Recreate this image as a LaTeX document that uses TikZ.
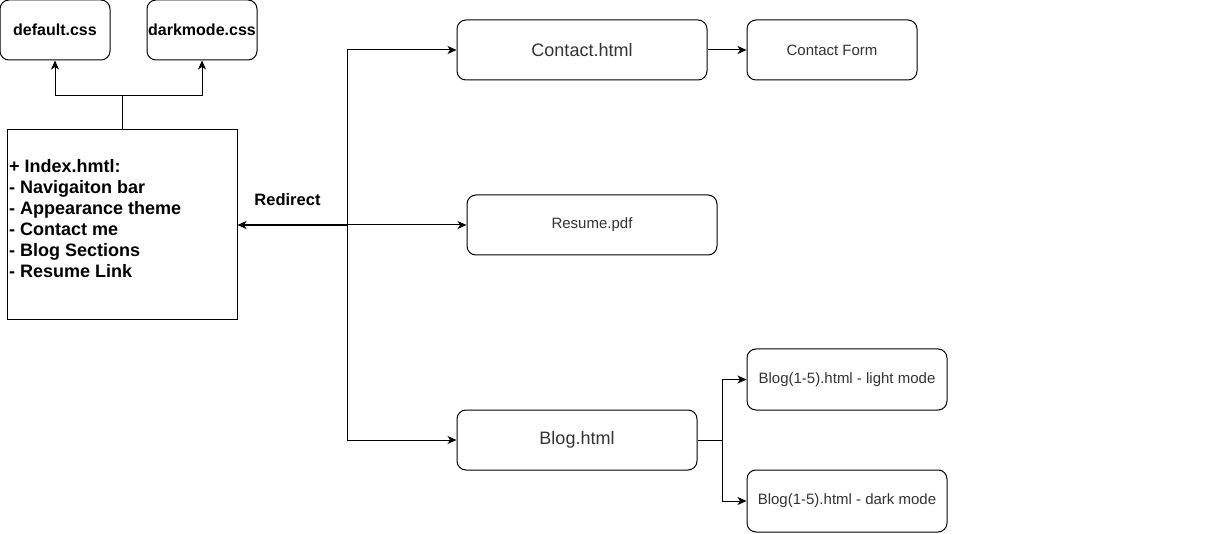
\documentclass[tikz,border=0pt]{standalone}
\usepackage{fontspec}
\setmainfont{Liberation Sans}
\usetikzlibrary{arrows.meta}
\definecolor{txtgray}{HTML}{333333}
\begin{document}
\begin{tikzpicture}[x=1pt,y=-1pt,
  rbox/.style={draw=black, line width=1pt, rounded corners=9pt, inner sep=0pt},
  pbox/.style={draw=black, line width=1pt, inner sep=0pt},
  tip/.style={-{Stealth[length=9pt,width=8pt,inset=2.5pt]}},
  arr/.style={line width=1pt, tip},
  ln/.style={line width=1pt},
  cssfont/.style={font=\fontsize{16}{19}\selectfont\bfseries, text=black},
  bigfont/.style={font=\fontsize{18}{21}\selectfont, text=txtgray},
  smallfont/.style={font=\fontsize{15}{18}\selectfont, text=txtgray}]
\useasboundingbox (0,0) rectangle (1226,534);

\node[rbox, cssfont, minimum width=110pt, minimum height=60pt] (def) at (55,30) {default.css};
\node[rbox, cssfont, minimum width=110pt, minimum height=60pt] (dark) at (202,30) {darkmode.css};

\node[pbox, minimum width=230pt, minimum height=190pt] (index) at (122,225) {};
\node[anchor=west, inner sep=0pt, align=left, font=\fontsize{18}{21}\selectfont\bfseries] (indextext) at (9,218.5)
  {+ Index.hmtl:\\- Navigaiton bar\\- Appearance theme\\- Contact me\\- Blog Sections\\- Resume Link};

\node[rbox, bigfont, minimum width=250pt, minimum height=60pt] (contact) at (582,50) {Contact.html};
\node[rbox, smallfont, minimum width=170pt, minimum height=60pt] (form) at (832,50) {Contact Form};
\node[rbox, smallfont, minimum width=250pt, minimum height=60pt] (resume) at (592,225) {Resume.pdf};
\node[rbox, bigfont, minimum width=240pt, minimum height=60pt] (blog) at (577,440) {Blog.html};
\node[rbox, smallfont, minimum width=200pt, minimum height=61pt] (light) at (847,379.5) {Blog(1-5).html - light mode};
\node[rbox, smallfont, minimum width=200pt, minimum height=62pt] (darkb) at (847,501) {Blog(1-5).html - dark mode};

% css links
\coordinate (j) at (122,96);
\draw[ln] (index.north) -- (j);
\draw[arr] (j) -| (def.south);
\draw[arr] (j) -| (dark.south);

% redirect spine
\coordinate (sp) at (347,225);
\draw[arr] (sp) |- (contact.west);
\draw[arr] (sp) |- (blog.west);
\draw[arr] (sp) -- (resume.west);
\draw[line width=2pt, tip] (sp) -- (index.east);
\node[font=\fontsize{16.5}{19}\selectfont\bfseries] (redirect) at (287.5,200) {Redirect};

% contact
\draw[arr] (contact.east) -- (form.west);

% blog
\coordinate (bj) at (722,440);
\draw[ln] (blog.east) -- (bj);
\draw[arr] (bj) |- (light.west);
\draw[arr] (bj) |- (darkb.west);
\end{tikzpicture}
\end{document}
